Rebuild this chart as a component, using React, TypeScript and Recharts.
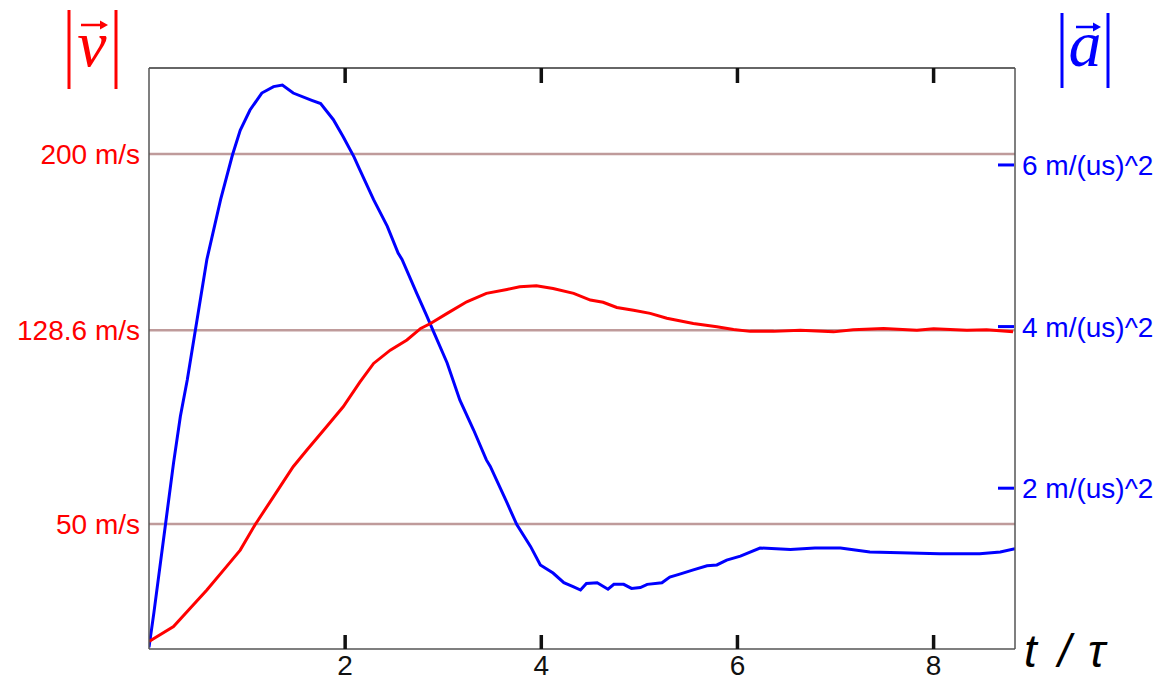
import { LineChart, Line, XAxis, YAxis, CartesianGrid } from 'recharts'

// time in units of tau
const tVel = [0, 0.05, 0.25, 0.42, 0.59, 0.79, 0.93, 1.08, 1.27, 1.47, 1.61, 1.81, 1.98, 2.15, 2.29, 2.46, 2.63, 2.77, 2.87, 3.04, 3.24, 3.44, 3.65, 3.78, 3.95, 4.12, 4.33, 4.5, 4.63, 4.77, 4.94, 5.11, 5.28, 5.55, 5.79, 5.96, 6.13, 6.37, 6.64, 6.98, 7.18, 7.49, 7.83, 8.0, 8.34, 8.54, 8.81]
const vel = [2.3, 3.6, 8.4, 15.8, 23.2, 32.7, 39.4, 49.6, 61.1, 73.2, 80.0, 89.4, 97.5, 107.5, 115.1, 120.5, 124.6, 129.3, 131.3, 135.4, 140.1, 143.5, 145.1, 146.2, 146.6, 145.5, 143.5, 140.8, 139.9, 137.8, 136.7, 135.4, 133.4, 131.3, 130.0, 128.9, 128.1, 128.1, 128.6, 127.9, 128.8, 129.3, 128.6, 129.2, 128.6, 128.8, 127.9]

const tAcc = [0, 0.05, 0.17, 0.25, 0.32, 0.39, 0.59, 0.73, 0.85, 0.93, 1.03, 1.15, 1.27, 1.36, 1.47, 1.66, 1.75, 1.88, 1.98, 2.09, 2.15, 2.29, 2.43, 2.54, 2.58, 2.73, 2.83, 2.9, 3.04, 3.17, 3.31, 3.44, 3.48, 3.65, 3.75, 3.89, 3.99, 4.12, 4.23, 4.33, 4.4, 4.46, 4.57, 4.68, 4.74, 4.84, 4.92, 5.01, 5.08, 5.23, 5.31, 5.42, 5.55, 5.69, 5.79, 5.89, 6.03, 6.23, 6.54, 6.79, 7.05, 7.35, 7.66, 8.06, 8.47, 8.68, 8.83]
const acc = [0.03, 0.46, 1.57, 2.31, 2.89, 3.34, 4.83, 5.57, 6.12, 6.43, 6.68, 6.89, 6.97, 6.99, 6.89, 6.8, 6.76, 6.56, 6.35, 6.1, 5.94, 5.57, 5.24, 4.91, 4.83, 4.41, 4.14, 3.94, 3.55, 3.09, 2.72, 2.35, 2.27, 1.82, 1.55, 1.28, 1.05, 0.95, 0.83, 0.78, 0.74, 0.82, 0.83, 0.75, 0.81, 0.81, 0.76, 0.77, 0.81, 0.83, 0.9, 0.94, 0.99, 1.04, 1.05, 1.11, 1.16, 1.26, 1.24, 1.26, 1.26, 1.21, 1.2, 1.19, 1.19, 1.21, 1.25]

const timeTicks = [2, 4, 6, 8]
const velTicks = [50, 128.6, 200]
const accTicks = [2, 4, 6]

const velData = tVel.map((t, i) => ({ t, v: vel[i] }))
const accData = tAcc.map((t, i) => ({ t, a: acc[i] }))

const SANS = '"Liberation Sans", Arial, sans-serif'
const SERIF = '"Liberation Serif", "Times New Roman", serif'

function BottomTick({ x, y, payload }: any) {
  return (
    <g>
      <line x1={x} x2={x} y1={y - 14} y2={y} stroke="#111" strokeWidth={3.5} />
      <text x={x} y={y + 26} textAnchor="middle" fontSize={28} fontFamily={SANS} fill="#111">
        {payload.value}
      </text>
    </g>
  )
}

function TopTick({ x, y }: any) {
  return <line x1={x} x2={x} y1={y} y2={y + 15} stroke="#111" strokeWidth={3.5} />
}

function VelTick({ x, y, payload }: any) {
  return (
    <text x={x - 9} y={y} dy={10} textAnchor="end" fontSize={28} fontFamily={SANS} fill="#ff0000">
      {payload.value} m/s
    </text>
  )
}

function AccTick({ x, y, payload }: any) {
  return (
    <g>
      <line x1={x - 17} x2={x - 1} y1={y} y2={y} stroke="#0000ff" strokeWidth={3} />
      <text x={x + 7} y={y} dy={10} textAnchor="start" fontSize={28} fontFamily={SANS} fill="#0000ff">
        {payload.value} m/(us)^2
      </text>
    </g>
  )
}

export default function App() {
  return (
    <div style={{ position: 'absolute', left: 0, top: 0, width: 1164, height: 680, background: '#fff' }}>
      <LineChart width={1164} height={680} margin={{ top: 67, right: 0, bottom: 1, left: 0 }}>
        <CartesianGrid xAxisId="b" yAxisId="v" vertical={false} horizontalValues={velTicks} stroke="#bf9b9b" strokeWidth={2.5} />
        <XAxis
          xAxisId="b"
          type="number"
          dataKey="t"
          domain={[0, 8.83]}
          allowDataOverflow
          ticks={timeTicks}
          height={30}
          tickSize={0}
          tickMargin={0}
          tickLine={false}
          tick={<BottomTick />}
          axisLine={{ stroke: '#555', strokeWidth: 1.5 }}
        />
        <XAxis
          xAxisId="top"
          orientation="top"
          type="number"
          dataKey="t"
          domain={[0, 8.83]}
          allowDataOverflow
          ticks={timeTicks}
          height={1}
          tickSize={0}
          tickMargin={0}
          tickLine={false}
          tick={<TopTick />}
          axisLine={{ stroke: '#666', strokeWidth: 2 }}
        />
        <YAxis
          yAxisId="v"
          type="number"
          domain={[-0.7, 234.9]}
          allowDataOverflow
          ticks={velTicks}
          width={149}
          tickSize={0}
          tickMargin={0}
          tickLine={false}
          tick={<VelTick />}
          axisLine={{ stroke: '#555', strokeWidth: 1.5 }}
        />
        <YAxis
          yAxisId="a"
          orientation="right"
          type="number"
          domain={[0.01, 7.2]}
          allowDataOverflow
          ticks={accTicks}
          width={149}
          tickSize={0}
          tickMargin={0}
          tickLine={false}
          tick={<AccTick />}
          axisLine={{ stroke: '#555', strokeWidth: 1.5 }}
        />
        <Line xAxisId="b" yAxisId="a" data={accData} dataKey="a" type="linear" stroke="#0000ff" strokeWidth={3} dot={false} isAnimationActive={false} />
        <Line xAxisId="b" yAxisId="v" data={velData} dataKey="v" type="linear" stroke="#ff0000" strokeWidth={3} dot={false} isAnimationActive={false} />
      </LineChart>
      <svg width={1164} height={680} style={{ position: 'absolute', left: 0, top: 0, pointerEvents: 'none' }}>
        {/* |v| */}
        <line x1={69} x2={69} y1={10} y2={89} stroke="#ff0000" strokeWidth={3} />
        <line x1={116} x2={116} y1={10} y2={89} stroke="#ff0000" strokeWidth={3} />
        <text x={92} y={66} textAnchor="middle" fontSize={66} fontStyle="italic" fontFamily={SERIF} fill="#ff0000">v</text>
        <line x1={81} x2={102} y1={25} y2={25} stroke="#ff0000" strokeWidth={2.5} />
        <polygon points="100,20.5 108,25 100,29.5" fill="#ff0000" />
        {/* |a| */}
        <line x1={1062} x2={1062} y1={13} y2={88} stroke="#0000ff" strokeWidth={3} />
        <line x1={1108} x2={1108} y1={13} y2={88} stroke="#0000ff" strokeWidth={3} />
        <text x={1085} y={66} textAnchor="middle" fontSize={66} fontStyle="italic" fontFamily={SERIF} fill="#0000ff">a</text>
        <line x1={1076} x2={1095} y1={27} y2={27} stroke="#0000ff" strokeWidth={2.5} />
        <polygon points="1093,22.5 1101,27 1093,31.5" fill="#0000ff" />
        {/* t / tau */}
        <text y={667} fontSize={46} fontStyle="italic" fontFamily={SANS} fill="#000">
          <tspan x={1024}>t</tspan>
          <tspan x={1058}>/</tspan>
          <tspan x={1088}>τ</tspan>
        </text>
      </svg>
    </div>
  )
}
